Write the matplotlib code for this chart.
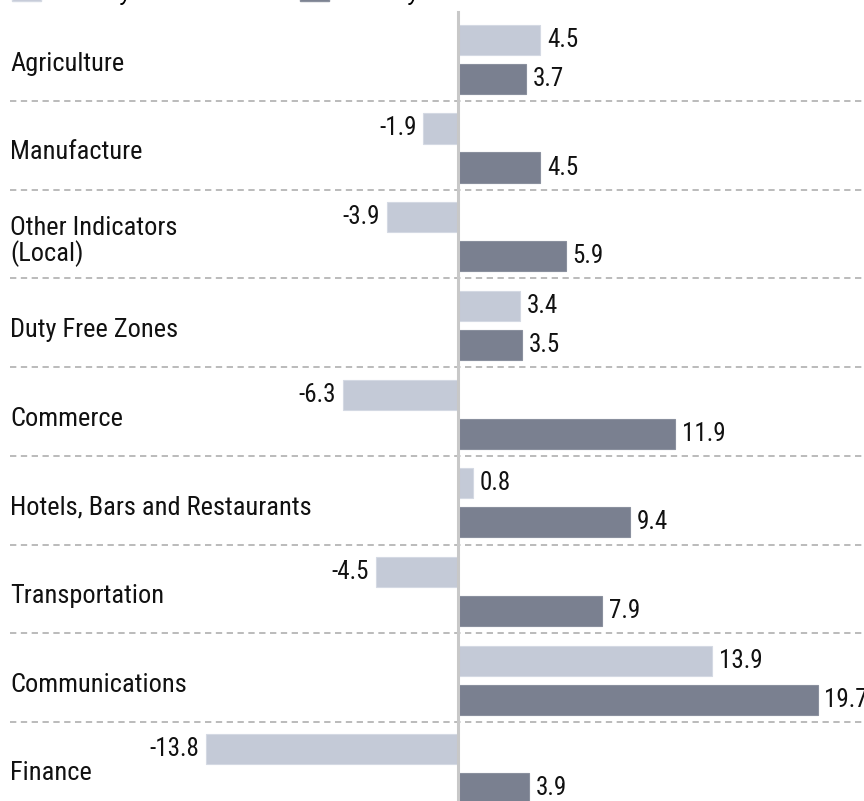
import numpy as np
import matplotlib
matplotlib.use("Agg")
import matplotlib.pyplot as plt
from matplotlib.patches import Patch
from matplotlib import font_manager

# pick a condensed face if one is installed
fonts = font_manager.fontManager.ttflist
narrow = None
for f in fonts:
    if f.name in ("Liberation Sans Narrow", "Roboto Condensed", "Open Sans Condensed"):
        narrow = (f.name, "normal")
        break
if narrow is None:
    for f in fonts:
        if f.name == "DejaVu Sans" and f.stretch in ("condensed", "semi-condensed", 400):
            narrow = ("DejaVu Sans", "condensed")
            break
if narrow is None:
    narrow = ("Roboto", "normal")

plt.rcParams['font.family'] = [narrow[0], 'DejaVu Sans']
plt.rcParams['font.stretch'] = narrow[1]

categories = ["Agriculture", "Manufacture", "Other Indicators\n(Local)", "Duty Free Zones",
              "Commerce", "Hotels, Bars and Restaurants", "Transportation",
              "Communications", "Finance"]
jan_mar_2004 = [4.5, -1.9, -3.9, 3.4, -6.3, 0.8, -4.5, 13.9, -13.8]
jan_mar_2005 = [3.7, 4.5, 5.9, 3.5, 11.9, 9.4, 7.9, 19.7, 3.9]
series_names = ["January-March 2004", "January-March 2005"]

light = "#c4cad7"
dark = "#7a8090"
txt = "#111111"

W, H = 864, 801
fig = plt.figure(figsize=(W / 100, H / 100), dpi=100)
ax = fig.add_axes([0, 0, 1, 1])

# pixel layout -> data units
px_per_unit = 18.25
zero_px = 458
row_px = 88.7
top_px = 12.3
ax.set_xlim(-zero_px / px_per_unit, (W - zero_px) / px_per_unit)
ax.set_ylim((H - top_px) / row_px, -top_px / row_px)
ax.axis("off")

rows = np.arange(len(categories))
bh = 0.34
y1 = rows + 0.31
y2 = rows + 0.75

ax.barh(y1, jan_mar_2004, height=bh, color=light, edgecolor="#d4d9e3", linewidth=0.8, zorder=2)
ax.barh(y2, jan_mar_2005, height=bh, color=dark, edgecolor="#8a909e", linewidth=0.8, zorder=2)

for ys, vals in ((y1, jan_mar_2004), (y2, jan_mar_2005)):
    for y, v in zip(ys, vals):
        off = 5 if v >= 0 else -5
        ax.annotate(f"{v:.1f}", (v, y), xytext=(off, 0), textcoords="offset points",
                    ha="left" if v >= 0 else "right", va="center",
                    fontsize=18, color=txt, zorder=3)

for i, c in enumerate(categories):
    ax.text(10 / px_per_unit - zero_px / px_per_unit, i + 0.58, c, ha="left", va="center",
            fontsize=19, color=txt, linespacing=1.0)

for i in rows[1:]:
    ax.axhline(i, xmin=10 / W, xmax=1, color="#b5b5b5", lw=1.3,
               linestyle=(0, (3.5, 2.5)), zorder=1)

ax.axvline(0, ymin=0, ymax=1 - top_px / H, color="#c8c8c8", lw=2.2, zorder=4)

# legend sits mostly above the top edge, as in the source crop
handles = [Patch(facecolor=light, edgecolor="#d4d9e3"), Patch(facecolor=dark, edgecolor="#8a909e")]
fig.legend(handles, series_names, loc="center left", bbox_to_anchor=(12 / W, 1.009),
           ncol=2, frameon=False, handlelength=1.1, handleheight=0.8, handletextpad=0.4,
           columnspacing=1.6, borderpad=0, borderaxespad=0,
           prop={"size": 19, "style": "italic"})

fig.savefig("out.png", dpi=100)
